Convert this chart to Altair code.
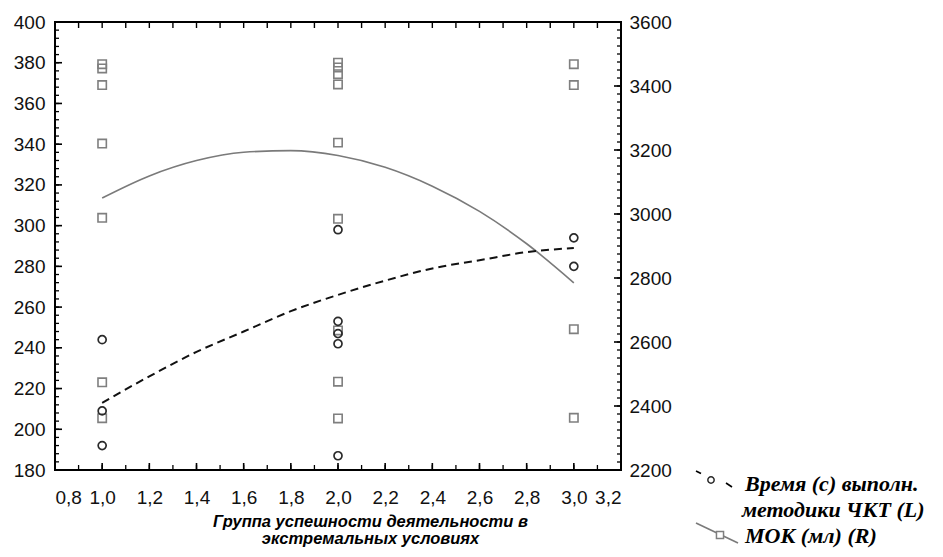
import altair as alt
import pandas as pd

# ---- data ----
time_group = [1, 1, 1, 2, 2, 2, 2, 2, 3, 3]
time_value = [244, 209, 192, 298, 253, 247, 242, 187, 294, 280]

mok_group = [1, 1, 1, 1, 1, 1, 1,
             2, 2, 2, 2, 2, 2, 2, 2, 2,
             3, 3, 3, 3]
mok_value = [3468, 3455, 3403, 3220, 2988, 2474, 2362,
             3473, 3458, 3437, 3405, 3223, 2985, 2636, 2476, 2361,
             3468, 3403, 2640, 2363]

fit_x = [1.0, 1.2, 1.4, 1.6, 1.8, 2.0, 2.2, 2.4, 2.6, 2.8, 3.0]
time_fit = [213, 226, 238, 248, 258, 266, 273, 279, 283, 287, 289]
mok_fit = [3050, 3119, 3167, 3193, 3198, 3183, 3146, 3087, 3008, 2907, 2785]

x_major = [0.8, 1.0, 1.2, 1.4, 1.6, 1.8, 2.0, 2.2, 2.4, 2.6, 2.8, 3.0, 3.2]
x_minor = [0.8, 0.9, 1.0, 1.1, 1.2, 1.3, 1.4, 1.5, 1.6, 1.7, 1.8, 1.9, 2.0,
           2.1, 2.2, 2.3, 2.4, 2.5, 2.6, 2.7, 2.8, 2.9, 3.0, 3.1, 3.2]
left_major = [180, 200, 220, 240, 260, 280, 300, 320, 340, 360, 380, 400]
left_minor = list(range(180, 401, 4))
right_major = [2200, 2400, 2600, 2800, 3000, 3200, 3400, 3600]
right_minor = list(range(2200, 3601, 25))

x_title = ["Группа успешности деятельности в", "экстремальных  условиях"]
legend_time = ["Время (с) выполн.", "методики ЧКТ (L)"]
legend_mok = "МОК (мл) (R)"

# ---- scales ----
W, H = 566, 448
xs = alt.Scale(domain=[0.8, 3.2], nice=False, zero=False)
ysL = alt.Scale(domain=[180, 400], nice=False, zero=False)
ysR = alt.Scale(domain=[2200, 3600], nice=False, zero=False)

LABEL_FONT = "Liberation Sans"
LF_SIZE = 19
TICK_COLOR = "black"

time_df = pd.DataFrame({"g": time_group, "v": time_value})
mok_df = pd.DataFrame({"g": mok_group, "v": mok_value})
tfit_df = pd.DataFrame({"g": fit_x, "v": time_fit})
mfit_df = pd.DataFrame({"g": fit_x, "v": mok_fit})

circles = alt.Chart(time_df).mark_point(
    shape="circle", filled=False, size=64, color="#2a2a2a", strokeWidth=1.7, opacity=1
).encode(
    x=alt.X("g:Q", scale=xs, axis=None),
    y=alt.Y("v:Q", scale=ysL, axis=None),
)

time_line = alt.Chart(tfit_df).mark_line(
    color="#111111", strokeWidth=2, strokeDash=[8, 5], interpolate="monotone"
).encode(
    x=alt.X("g:Q", scale=xs, axis=None),
    y=alt.Y("v:Q", scale=ysL, axis=None),
)

squares = alt.Chart(mok_df).mark_point(
    shape="square", filled=False, size=70, color="#7f7f7f", strokeWidth=1.6, opacity=1
).encode(
    x=alt.X("g:Q", scale=xs, axis=None),
    y=alt.Y("v:Q", scale=ysR, axis=None),
)

mok_line = alt.Chart(mfit_df).mark_line(
    color="#7a7a7a", strokeWidth=1.6, interpolate="monotone"
).encode(
    x=alt.X("g:Q", scale=xs, axis=None),
    y=alt.Y("v:Q", scale=ysR, axis=None),
)


def y_axis_layer(scale, lo, axis):
    return alt.Chart(pd.DataFrame({"v": [lo]})).mark_point(opacity=0).encode(
        y=alt.Y("v:Q", scale=scale, axis=axis)
    )


def x_axis_layer(axis):
    return alt.Chart(pd.DataFrame({"g": [1.0]})).mark_point(opacity=0).encode(
        x=alt.X("g:Q", scale=xs, axis=axis)
    )


def y_ticks(values, scale, x0, x1, width):
    return alt.Chart(pd.DataFrame({"v": values})).mark_rule(
        color=TICK_COLOR, strokeWidth=width, opacity=1).encode(
        y=alt.Y("v:Q", scale=scale, axis=None), x=alt.value(x0), x2=alt.value(x1))


def x_ticks(values, y0, y1, width):
    return alt.Chart(pd.DataFrame({"g": values})).mark_rule(
        color=TICK_COLOR, strokeWidth=width, opacity=1).encode(
        x=alt.X("g:Q", scale=xs, axis=None), y=alt.value(y0), y2=alt.value(y1))


left_labels = y_axis_layer(ysL, 180, alt.Axis(
    orient="left", values=left_major, ticks=False, tickSize=0, domain=False, grid=False,
    labelPadding=10, title=None, labelFont=LABEL_FONT, labelFontSize=LF_SIZE,
    labelColor="#111111"))
right_labels = y_axis_layer(ysR, 2200, alt.Axis(
    orient="right", values=right_major, ticks=False, tickSize=0, domain=False, grid=False,
    labelPadding=8, title=None, labelFont=LABEL_FONT, labelFontSize=LF_SIZE,
    labelColor="#111111", format="d"))
bottom_labels = x_axis_layer(alt.Axis(
    orient="bottom", values=x_major, ticks=False, tickSize=0, domain=False, grid=False,
    labelPadding=18, labelFont=LABEL_FONT, labelFontSize=LF_SIZE, labelColor="#111111",
    labelExpr="replace(format(datum.value, '.1f'), '.', ',')",
    title=x_title, titleFont=LABEL_FONT, titleFontSize=16.5, titleFontWeight="bold",
    titleFontStyle="italic", titleColor="black", titleX=315, titleY=43,
    titleAlign="center", titleBaseline="top", titleLineHeight=17, titleAngle=0))

tick_layers = [
    y_ticks(left_major, ysL, 0, 7, 1.6),
    y_ticks(left_minor, ysL, 0, 4, 1.3),
    y_ticks(right_major, ysR, W, W - 7, 1.6),
    y_ticks(right_minor, ysR, W, W - 4, 1.3),
    x_ticks(x_major, H, H - 7, 1.6),
    x_ticks(x_minor, H, H - 5, 1.3),
    x_ticks(x_minor, 0, 6, 1.4),
]

# ---- legend (drawn at the lower right, outside the plot) ----
one = pd.DataFrame({"k": [0]})
LEG_FONT = dict(font="Liberation Serif", fontSize=22, fontWeight="bold",
                fontStyle="italic", color="black", align="left", baseline="middle")

leg_t1 = alt.Chart(one).mark_text(text=legend_time[0], **LEG_FONT).encode(
    x=alt.value(690), y=alt.value(462))
leg_t2 = alt.Chart(one).mark_text(text=legend_time[1], **LEG_FONT).encode(
    x=alt.value(687), y=alt.value(488))
leg_t3 = alt.Chart(one).mark_text(text=legend_mok, **LEG_FONT).encode(
    x=alt.value(690), y=alt.value(514))

leg_d1 = alt.Chart(one).mark_rule(color="black", strokeWidth=1.6).encode(
    x=alt.value(641), x2=alt.value(646), y=alt.value(449), y2=alt.value(451.5))
leg_d2 = alt.Chart(one).mark_rule(color="black", strokeWidth=1.6).encode(
    x=alt.value(671), x2=alt.value(677), y=alt.value(461), y2=alt.value(465))
leg_c = alt.Chart(one).mark_point(shape="circle", filled=False, size=40,
                                  color="#2a2a2a", strokeWidth=1.5, opacity=1).encode(
    x=alt.value(656), y=alt.value(458))
leg_l2 = alt.Chart(one).mark_rule(color="#7a7a7a", strokeWidth=1.6).encode(
    x=alt.value(641), x2=alt.value(683), y=alt.value(501), y2=alt.value(521))
leg_s = alt.Chart(one).mark_point(shape="square", filled=True, size=50,
                                  color="white", opacity=1).encode(
    x=alt.value(665), y=alt.value(513))
leg_s2 = alt.Chart(one).mark_point(shape="square", filled=False, size=50,
                                   color="#7f7f7f", strokeWidth=1.5, opacity=1).encode(
    x=alt.value(665), y=alt.value(513))

chart = alt.layer(
    left_labels, right_labels, bottom_labels,
    *tick_layers,
    mok_line, time_line, squares, circles,
    leg_t1, leg_t2, leg_t3, leg_d1, leg_d2, leg_c, leg_l2, leg_s, leg_s2,
).resolve_scale(
    y="independent"
).resolve_axis(
    x="independent", y="independent"
).properties(
    width=W, height=H,
    autosize=alt.AutoSizeParams(type="none"),
    padding={"left": 47, "top": 14, "right": 314, "bottom": 80},
).configure_view(
    stroke="black", strokeWidth=2
)

chart.save("out.html", embed_options={"renderer": "svg", "actions": False})
